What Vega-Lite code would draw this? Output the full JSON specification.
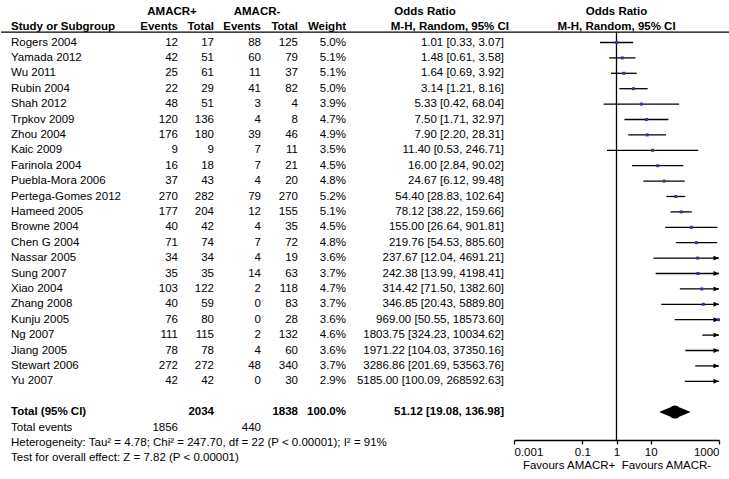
{
  "$schema": "https://vega.github.io/schema/vega-lite/v6.json",
  "padding": {"left": 0, "top": 4, "right": 0, "bottom": 0},
  "bounds": "flush",
  "spacing": 0,
  "resolve": {"scale": {"y": "shared"}},
  "config": {
    "view": {"stroke": null},
    "concat": {"spacing": 0},
    "text": {"font": "Liberation Sans", "fontSize": 11.5, "color": "#000"},
    "axis": {"grid": false, "domainColor": "#000", "tickColor": "#000", "tickSize": 4, "domainWidth": 1.3, "tickWidth": 1.3, "labelFont": "Liberation Sans", "labelFontSize": 11.5, "labelColor": "#000", "labelPadding": 2, "labelFlush": true, "labelOverlap": false, "titleFont": "Liberation Sans", "titleFontSize": 11.5, "titleFontWeight": "normal", "titleColor": "#000", "titlePadding": 2}
  },
  "datasets": {
    "rows": [
      {"row": "Rogers 2004", "e1": 12, "t1": 17, "e2": 88, "t2": 125, "w": 0.050, "ci": "1.01 [0.33, 3.07]", "or": 1.01, "lo": 0.33, "hi": 3.07},
      {"row": "Yamada 2012", "e1": 42, "t1": 51, "e2": 60, "t2": 79, "w": 0.051, "ci": "1.48 [0.61, 3.58]", "or": 1.48, "lo": 0.61, "hi": 3.58},
      {"row": "Wu 2011", "e1": 25, "t1": 61, "e2": 11, "t2": 37, "w": 0.051, "ci": "1.64 [0.69, 3.92]", "or": 1.64, "lo": 0.69, "hi": 3.92},
      {"row": "Rubin 2004", "e1": 22, "t1": 29, "e2": 41, "t2": 82, "w": 0.050, "ci": "3.14 [1.21, 8.16]", "or": 3.14, "lo": 1.21, "hi": 8.16},
      {"row": "Shah 2012", "e1": 48, "t1": 51, "e2": 3, "t2": 4, "w": 0.039, "ci": "5.33 [0.42, 68.04]", "or": 5.33, "lo": 0.42, "hi": 68.04},
      {"row": "Trpkov 2009", "e1": 120, "t1": 136, "e2": 4, "t2": 8, "w": 0.047, "ci": "7.50 [1.71, 32.97]", "or": 7.50, "lo": 1.71, "hi": 32.97},
      {"row": "Zhou 2004", "e1": 176, "t1": 180, "e2": 39, "t2": 46, "w": 0.049, "ci": "7.90 [2.20, 28.31]", "or": 7.90, "lo": 2.20, "hi": 28.31},
      {"row": "Kaic 2009", "e1": 9, "t1": 9, "e2": 7, "t2": 11, "w": 0.035, "ci": "11.40 [0.53, 246.71]", "or": 11.40, "lo": 0.53, "hi": 246.71},
      {"row": "Farinola 2004", "e1": 16, "t1": 18, "e2": 7, "t2": 21, "w": 0.045, "ci": "16.00 [2.84, 90.02]", "or": 16.00, "lo": 2.84, "hi": 90.02},
      {"row": "Puebla-Mora 2006", "e1": 37, "t1": 43, "e2": 4, "t2": 20, "w": 0.048, "ci": "24.67 [6.12, 99.48]", "or": 24.67, "lo": 6.12, "hi": 99.48},
      {"row": "Pertega-Gomes 2012", "e1": 270, "t1": 282, "e2": 79, "t2": 270, "w": 0.052, "ci": "54.40 [28.83, 102.64]", "or": 54.40, "lo": 28.83, "hi": 102.64},
      {"row": "Hameed 2005", "e1": 177, "t1": 204, "e2": 12, "t2": 155, "w": 0.051, "ci": "78.12 [38.22, 159.66]", "or": 78.12, "lo": 38.22, "hi": 159.66},
      {"row": "Browne 2004", "e1": 40, "t1": 42, "e2": 4, "t2": 35, "w": 0.045, "ci": "155.00 [26.64, 901.81]", "or": 155.00, "lo": 26.64, "hi": 901.81},
      {"row": "Chen G 2004", "e1": 71, "t1": 74, "e2": 7, "t2": 72, "w": 0.048, "ci": "219.76 [54.53, 885.60]", "or": 219.76, "lo": 54.53, "hi": 885.60},
      {"row": "Nassar 2005", "e1": 34, "t1": 34, "e2": 4, "t2": 19, "w": 0.036, "ci": "237.67 [12.04, 4691.21]", "or": 237.67, "lo": 12.04, "hi": 4691.21},
      {"row": "Sung 2007", "e1": 35, "t1": 35, "e2": 14, "t2": 63, "w": 0.037, "ci": "242.38 [13.99, 4198.41]", "or": 242.38, "lo": 13.99, "hi": 4198.41},
      {"row": "Xiao 2004", "e1": 103, "t1": 122, "e2": 2, "t2": 118, "w": 0.047, "ci": "314.42 [71.50, 1382.60]", "or": 314.42, "lo": 71.50, "hi": 1382.60},
      {"row": "Zhang 2008", "e1": 40, "t1": 59, "e2": 0, "t2": 83, "w": 0.037, "ci": "346.85 [20.43, 5889.80]", "or": 346.85, "lo": 20.43, "hi": 5889.80},
      {"row": "Kunju 2005", "e1": 76, "t1": 80, "e2": 0, "t2": 28, "w": 0.036, "ci": "969.00 [50.55, 18573.60]", "or": 969.00, "lo": 50.55, "hi": 18573.60},
      {"row": "Ng 2007", "e1": 111, "t1": 115, "e2": 2, "t2": 132, "w": 0.046, "ci": "1803.75 [324.23, 10034.62]", "or": 1803.75, "lo": 324.23, "hi": 10034.62},
      {"row": "Jiang 2005", "e1": 78, "t1": 78, "e2": 4, "t2": 60, "w": 0.036, "ci": "1971.22 [104.03, 37350.16]", "or": 1971.22, "lo": 104.03, "hi": 37350.16},
      {"row": "Stewart 2006", "e1": 272, "t1": 272, "e2": 48, "t2": 340, "w": 0.037, "ci": "3286.86 [201.69, 53563.76]", "or": 3286.86, "lo": 201.69, "hi": 53563.76},
      {"row": "Yu 2007", "e1": 42, "t1": 42, "e2": 0, "t2": 30, "w": 0.029, "ci": "5185.00 [100.09, 268592.63]", "or": 5185.00, "lo": 100.09, "hi": 268592.63},
      {"row": "Total (95% CI)", "t1": 2034, "t2": 1838, "w": 1.0, "ci": "51.12 [19.08, 136.98]", "or": 51.12, "lo": 19.08, "hi": 136.98},
      {"row": "Total events", "e1": 1856, "e2": 440}
    ],
    "labels": [
      {"row": "h2", "col": "study", "label": "Study or Subgroup"},
      {"row": "het", "col": "study", "label": "Heterogeneity: Tau² = 4.78; Chi² = 247.70, df = 22 (P < 0.00001); I² = 91%"},
      {"row": "test", "col": "study", "label": "Test for overall effect: Z = 7.82 (P < 0.00001)"},
      {"row": "h1", "col": "e1", "label": "AMACR+"},
      {"row": "h2", "col": "e1", "label": "Events"},
      {"row": "h2", "col": "t1", "label": "Total"},
      {"row": "h1", "col": "e2", "label": "AMACR-"},
      {"row": "h2", "col": "e2", "label": "Events"},
      {"row": "h2", "col": "t2", "label": "Total"},
      {"row": "h2", "col": "w", "label": "Weight"},
      {"row": "h1", "col": "ci", "label": "Odds Ratio"},
      {"row": "h2", "col": "ci", "label": "M-H, Random, 95% CI"},
      {"row": "h1", "col": "plot", "label": "Odds Ratio"},
      {"row": "h2", "col": "plot", "label": "M-H, Random, 95% CI"}
    ]
  },
  "hconcat": [
    {
      "width": 140, "height": 462,
      "encoding": {"y": {"field": "row", "type": "nominal", "axis": null, "scale": {"type": "point", "padding": 0.5, "domain": ["h1","h2","Rogers 2004","Yamada 2012","Wu 2011","Rubin 2004","Shah 2012","Trpkov 2009","Zhou 2004","Kaic 2009","Farinola 2004","Puebla-Mora 2006","Pertega-Gomes 2012","Hameed 2005","Browne 2004","Chen G 2004","Nassar 2005","Sung 2007","Xiao 2004","Zhang 2008","Kunju 2005","Ng 2007","Jiang 2005","Stewart 2006","Yu 2007","sp","Total (95% CI)","Total events","het","test"]}}},
      "layer": [
        {"data": {"name": "rows"}, "transform": [{"filter": "datum.row != 'Total (95% CI)'"}], "mark": {"type": "text", "align": "left", "x": 0, "dx": 10}, "encoding": {"text": {"field": "row", "type": "nominal"}}},
        {"data": {"name": "rows"}, "transform": [{"filter": "datum.row == 'Total (95% CI)'"}], "mark": {"type": "text", "align": "left", "x": 0, "dx": 10, "fontWeight": "bold"}, "encoding": {"text": {"field": "row", "type": "nominal"}}},
        {"data": {"name": "labels"}, "transform": [{"filter": "datum.col == 'study' && datum.row == 'h2'"}], "mark": {"type": "text", "align": "left", "x": 0, "dx": 10, "fontWeight": "bold"}, "encoding": {"text": {"field": "label", "type": "nominal"}}},
        {"data": {"name": "labels"}, "transform": [{"filter": "datum.col == 'study' && datum.row != 'h2'"}], "mark": {"type": "text", "align": "left", "x": 0, "dx": 10}, "encoding": {"text": {"field": "label", "type": "nominal"}}},
        {"data": {"name": "labels"}, "transform": [{"filter": "datum.col == 'study' && datum.row == 'h2'"}], "mark": {"type": "rule", "yOffset": 5, "strokeWidth": 1.3, "color": "#000"}, "encoding": {}}
      ]
    },
    {
      "width": 37, "height": 462,
      "encoding": {"y": {"field": "row", "type": "nominal", "axis": null, "scale": {"type": "point", "padding": 0.5, "domain": ["h1","h2","Rogers 2004","Yamada 2012","Wu 2011","Rubin 2004","Shah 2012","Trpkov 2009","Zhou 2004","Kaic 2009","Farinola 2004","Puebla-Mora 2006","Pertega-Gomes 2012","Hameed 2005","Browne 2004","Chen G 2004","Nassar 2005","Sung 2007","Xiao 2004","Zhang 2008","Kunju 2005","Ng 2007","Jiang 2005","Stewart 2006","Yu 2007","sp","Total (95% CI)","Total events","het","test"]}}},
      "layer": [
        {"data": {"name": "rows"}, "transform": [{"filter": "isValid(datum.e1) && datum.row != 'Total (95% CI)'"}], "mark": {"type": "text", "align": "right", "x": "width"}, "encoding": {"text": {"field": "e1", "type": "quantitative"}}},
        {"data": {"name": "rows"}, "transform": [{"filter": "isValid(datum.e1) && datum.row == 'Total (95% CI)'"}], "mark": {"type": "text", "align": "right", "x": "width", "fontWeight": "bold"}, "encoding": {"text": {"field": "e1", "type": "quantitative"}}},
        {"data": {"name": "labels"}, "transform": [{"filter": "datum.col == 'e1' && datum.row == 'h2'"}], "mark": {"type": "text", "align": "right", "x": "width", "fontWeight": "bold"}, "encoding": {"text": {"field": "label", "type": "nominal"}}},
        {"data": {"name": "labels"}, "transform": [{"filter": "datum.col == 'e1' && datum.row == 'h1'"}], "mark": {"type": "text", "align": "center", "x": "width", "dx": -6, "fontWeight": "bold"}, "encoding": {"text": {"field": "label", "type": "nominal"}}},
        {"data": {"name": "labels"}, "transform": [{"filter": "datum.col == 'e1' && datum.row == 'h2'"}], "mark": {"type": "rule", "yOffset": 5, "strokeWidth": 1.3, "color": "#000"}, "encoding": {}}
      ]
    },
    {
      "width": 36, "height": 462,
      "encoding": {"y": {"field": "row", "type": "nominal", "axis": null, "scale": {"type": "point", "padding": 0.5, "domain": ["h1","h2","Rogers 2004","Yamada 2012","Wu 2011","Rubin 2004","Shah 2012","Trpkov 2009","Zhou 2004","Kaic 2009","Farinola 2004","Puebla-Mora 2006","Pertega-Gomes 2012","Hameed 2005","Browne 2004","Chen G 2004","Nassar 2005","Sung 2007","Xiao 2004","Zhang 2008","Kunju 2005","Ng 2007","Jiang 2005","Stewart 2006","Yu 2007","sp","Total (95% CI)","Total events","het","test"]}}},
      "layer": [
        {"data": {"name": "rows"}, "transform": [{"filter": "isValid(datum.t1) && datum.row != 'Total (95% CI)'"}], "mark": {"type": "text", "align": "right", "x": "width"}, "encoding": {"text": {"field": "t1", "type": "quantitative"}}},
        {"data": {"name": "rows"}, "transform": [{"filter": "isValid(datum.t1) && datum.row == 'Total (95% CI)'"}], "mark": {"type": "text", "align": "right", "x": "width", "fontWeight": "bold"}, "encoding": {"text": {"field": "t1", "type": "quantitative"}}},
        {"data": {"name": "labels"}, "transform": [{"filter": "datum.col == 't1' && datum.row == 'h2'"}], "mark": {"type": "text", "align": "right", "x": "width", "fontWeight": "bold"}, "encoding": {"text": {"field": "label", "type": "nominal"}}},
        {"data": {"name": "labels"}, "transform": [{"filter": "datum.col == 't1' && datum.row == 'h2'"}], "mark": {"type": "rule", "yOffset": 5, "strokeWidth": 1.3, "color": "#000"}, "encoding": {}}
      ]
    },
    {
      "width": 47, "height": 462,
      "encoding": {"y": {"field": "row", "type": "nominal", "axis": null, "scale": {"type": "point", "padding": 0.5, "domain": ["h1","h2","Rogers 2004","Yamada 2012","Wu 2011","Rubin 2004","Shah 2012","Trpkov 2009","Zhou 2004","Kaic 2009","Farinola 2004","Puebla-Mora 2006","Pertega-Gomes 2012","Hameed 2005","Browne 2004","Chen G 2004","Nassar 2005","Sung 2007","Xiao 2004","Zhang 2008","Kunju 2005","Ng 2007","Jiang 2005","Stewart 2006","Yu 2007","sp","Total (95% CI)","Total events","het","test"]}}},
      "layer": [
        {"data": {"name": "rows"}, "transform": [{"filter": "isValid(datum.e2) && datum.row != 'Total (95% CI)'"}], "mark": {"type": "text", "align": "right", "x": "width"}, "encoding": {"text": {"field": "e2", "type": "quantitative"}}},
        {"data": {"name": "labels"}, "transform": [{"filter": "datum.col == 'e2' && datum.row == 'h2'"}], "mark": {"type": "text", "align": "right", "x": "width", "fontWeight": "bold"}, "encoding": {"text": {"field": "label", "type": "nominal"}}},
        {"data": {"name": "labels"}, "transform": [{"filter": "datum.col == 'e2' && datum.row == 'h1'"}], "mark": {"type": "text", "align": "center", "x": "width", "dx": -4, "fontWeight": "bold"}, "encoding": {"text": {"field": "label", "type": "nominal"}}},
        {"data": {"name": "labels"}, "transform": [{"filter": "datum.col == 'e2' && datum.row == 'h2'"}], "mark": {"type": "rule", "yOffset": 5, "strokeWidth": 1.3, "color": "#000"}, "encoding": {}}
      ]
    },
    {
      "width": 37, "height": 462,
      "encoding": {"y": {"field": "row", "type": "nominal", "axis": null, "scale": {"type": "point", "padding": 0.5, "domain": ["h1","h2","Rogers 2004","Yamada 2012","Wu 2011","Rubin 2004","Shah 2012","Trpkov 2009","Zhou 2004","Kaic 2009","Farinola 2004","Puebla-Mora 2006","Pertega-Gomes 2012","Hameed 2005","Browne 2004","Chen G 2004","Nassar 2005","Sung 2007","Xiao 2004","Zhang 2008","Kunju 2005","Ng 2007","Jiang 2005","Stewart 2006","Yu 2007","sp","Total (95% CI)","Total events","het","test"]}}},
      "layer": [
        {"data": {"name": "rows"}, "transform": [{"filter": "isValid(datum.t2) && datum.row != 'Total (95% CI)'"}], "mark": {"type": "text", "align": "right", "x": "width"}, "encoding": {"text": {"field": "t2", "type": "quantitative"}}},
        {"data": {"name": "rows"}, "transform": [{"filter": "isValid(datum.t2) && datum.row == 'Total (95% CI)'"}], "mark": {"type": "text", "align": "right", "x": "width", "fontWeight": "bold"}, "encoding": {"text": {"field": "t2", "type": "quantitative"}}},
        {"data": {"name": "labels"}, "transform": [{"filter": "datum.col == 't2' && datum.row == 'h2'"}], "mark": {"type": "text", "align": "right", "x": "width", "fontWeight": "bold"}, "encoding": {"text": {"field": "label", "type": "nominal"}}},
        {"data": {"name": "labels"}, "transform": [{"filter": "datum.col == 't2' && datum.row == 'h2'"}], "mark": {"type": "rule", "yOffset": 5, "strokeWidth": 1.3, "color": "#000"}, "encoding": {}}
      ]
    },
    {
      "width": 48, "height": 462,
      "encoding": {"y": {"field": "row", "type": "nominal", "axis": null, "scale": {"type": "point", "padding": 0.5, "domain": ["h1","h2","Rogers 2004","Yamada 2012","Wu 2011","Rubin 2004","Shah 2012","Trpkov 2009","Zhou 2004","Kaic 2009","Farinola 2004","Puebla-Mora 2006","Pertega-Gomes 2012","Hameed 2005","Browne 2004","Chen G 2004","Nassar 2005","Sung 2007","Xiao 2004","Zhang 2008","Kunju 2005","Ng 2007","Jiang 2005","Stewart 2006","Yu 2007","sp","Total (95% CI)","Total events","het","test"]}}},
      "layer": [
        {"data": {"name": "rows"}, "transform": [{"filter": "isValid(datum.w) && datum.row != 'Total (95% CI)'"}], "mark": {"type": "text", "align": "right", "x": "width"}, "encoding": {"text": {"field": "w", "type": "quantitative", "format": ".1%"}}},
        {"data": {"name": "rows"}, "transform": [{"filter": "isValid(datum.w) && datum.row == 'Total (95% CI)'"}], "mark": {"type": "text", "align": "right", "x": "width", "fontWeight": "bold"}, "encoding": {"text": {"field": "w", "type": "quantitative", "format": ".1%"}}},
        {"data": {"name": "labels"}, "transform": [{"filter": "datum.col == 'w' && datum.row == 'h2'"}], "mark": {"type": "text", "align": "right", "x": "width", "fontWeight": "bold"}, "encoding": {"text": {"field": "label", "type": "nominal"}}},
        {"data": {"name": "labels"}, "transform": [{"filter": "datum.col == 'w' && datum.row == 'h2'"}], "mark": {"type": "rule", "yOffset": 5, "strokeWidth": 1.3, "color": "#000"}, "encoding": {}}
      ]
    },
    {
      "width": 158, "height": 462,
      "encoding": {"y": {"field": "row", "type": "nominal", "axis": null, "scale": {"type": "point", "padding": 0.5, "domain": ["h1","h2","Rogers 2004","Yamada 2012","Wu 2011","Rubin 2004","Shah 2012","Trpkov 2009","Zhou 2004","Kaic 2009","Farinola 2004","Puebla-Mora 2006","Pertega-Gomes 2012","Hameed 2005","Browne 2004","Chen G 2004","Nassar 2005","Sung 2007","Xiao 2004","Zhang 2008","Kunju 2005","Ng 2007","Jiang 2005","Stewart 2006","Yu 2007","sp","Total (95% CI)","Total events","het","test"]}}},
      "layer": [
        {"data": {"name": "rows"}, "transform": [{"filter": "isValid(datum.ci) && datum.row != 'Total (95% CI)'"}], "mark": {"type": "text", "align": "right", "x": "width"}, "encoding": {"text": {"field": "ci", "type": "nominal"}}},
        {"data": {"name": "rows"}, "transform": [{"filter": "isValid(datum.ci) && datum.row == 'Total (95% CI)'"}], "mark": {"type": "text", "align": "right", "x": "width", "fontWeight": "bold"}, "encoding": {"text": {"field": "ci", "type": "nominal"}}},
        {"data": {"name": "labels"}, "transform": [{"filter": "datum.col == 'ci' && datum.row == 'h1'"}], "mark": {"type": "text", "align": "center", "fontWeight": "bold"}, "encoding": {"text": {"field": "label", "type": "nominal"}}},
        {"data": {"name": "labels"}, "transform": [{"filter": "datum.col == 'ci' && datum.row == 'h2'"}], "mark": {"type": "text", "align": "right", "x": "width", "dx": 5, "fontWeight": "bold"}, "encoding": {"text": {"field": "label", "type": "nominal"}}},
        {"data": {"name": "labels"}, "transform": [{"filter": "datum.col == 'ci' && datum.row == 'h2'"}], "mark": {"type": "rule", "yOffset": 5, "strokeWidth": 1.3, "color": "#000"}, "encoding": {}}
      ]
    },
    {
      "width": 226, "height": 462,
      "encoding": {"y": {"field": "row", "type": "nominal", "axis": null, "scale": {"type": "point", "padding": 0.5, "domain": ["h1","h2","Rogers 2004","Yamada 2012","Wu 2011","Rubin 2004","Shah 2012","Trpkov 2009","Zhou 2004","Kaic 2009","Farinola 2004","Puebla-Mora 2006","Pertega-Gomes 2012","Hameed 2005","Browne 2004","Chen G 2004","Nassar 2005","Sung 2007","Xiao 2004","Zhang 2008","Kunju 2005","Ng 2007","Jiang 2005","Stewart 2006","Yu 2007","sp","Total (95% CI)","Total events","het","test"]}}},
      "layer": [
        {"data": {"name": "labels"}, "transform": [{"filter": "datum.col == 'plot' && datum.row == 'h2'"}], "mark": {"type": "rule", "yOffset": 5, "strokeWidth": 1.3, "color": "#000"}, "encoding": {}},
        {"data": {"name": "labels"}, "transform": [{"filter": "datum.col == 'plot' && datum.row == 'h2'"}], "mark": {"type": "rule", "yOffset": 5, "y2Offset": -3, "strokeWidth": 1.3, "color": "#000"},
          "encoding": {
            "x": {"datum": 1, "type": "quantitative", "scale": {"type": "log", "domain": [0.001, 1000], "range": [10, 215], "clamp": true, "nice": false}, "axis": {"values": [0.001, 0.1, 1, 10, 1000], "format": "~g", "title": "Favours AMACR+ \u00a0Favours AMACR-", "offset": -26}},
            "y2": {"datum": "het"}
          }},
        {"data": {"name": "rows"}, "transform": [{"filter": "isValid(datum.lo) && datum.row != 'Total (95% CI)'"}], "mark": {"type": "rule", "strokeWidth": 1.3, "color": "#000"},
          "encoding": {
            "x": {"field": "lo", "type": "quantitative", "scale": {"type": "log", "domain": [0.001, 1000], "range": [10, 215], "clamp": true, "nice": false}, "axis": {"values": [0.001, 0.1, 1, 10, 1000], "format": "~g", "title": "Favours AMACR+ \u00a0Favours AMACR-", "offset": -26}},
            "x2": {"field": "hi"}
          }},
        {"data": {"name": "rows"}, "transform": [{"filter": "datum.hi > 1000"}], "mark": {"type": "point", "shape": "M0,0L-1,-0.45L-1,0.45Z", "filled": true, "opacity": 1, "size": 121, "color": "#000"},
          "encoding": {
            "x": {"field": "hi", "type": "quantitative", "scale": {"type": "log", "domain": [0.001, 1000], "range": [10, 215], "clamp": true, "nice": false}, "axis": {"values": [0.001, 0.1, 1, 10, 1000], "format": "~g", "title": "Favours AMACR+ \u00a0Favours AMACR-", "offset": -26}}
          }},
        {"data": {"name": "rows"}, "transform": [{"filter": "isValid(datum.or) && datum.or <= 1000 && datum.row != 'Total (95% CI)'"}], "mark": {"type": "point", "shape": "square", "filled": true, "opacity": 1, "size": 9, "color": "#3434a6"},
          "encoding": {
            "x": {"field": "or", "type": "quantitative", "scale": {"type": "log", "domain": [0.001, 1000], "range": [10, 215], "clamp": true, "nice": false}, "axis": {"values": [0.001, 0.1, 1, 10, 1000], "format": "~g", "title": "Favours AMACR+ \u00a0Favours AMACR-", "offset": -26}}
          }},
        {"data": {"name": "rows"}, "transform": [{"filter": "datum.row == 'Total (95% CI)'"}, {"fold": ["lo", "or", "hi"], "as": ["key", "value"]}], "mark": {"type": "trail", "color": "#000"},
          "encoding": {
            "x": {"field": "value", "type": "quantitative", "scale": {"type": "log", "domain": [0.001, 1000], "range": [10, 215], "clamp": true, "nice": false}, "axis": {"values": [0.001, 0.1, 1, 10, 1000], "format": "~g", "title": "Favours AMACR+ \u00a0Favours AMACR-", "offset": -26}},
            "size": {"field": "key", "type": "ordinal", "scale": {"type": "ordinal", "domain": ["lo", "or", "hi"], "range": [0, 13, 0]}, "legend": null},
            "order": {"field": "value", "type": "quantitative"}
          }},
        {"data": {"name": "labels"}, "transform": [{"filter": "datum.col == 'plot'"}], "mark": {"type": "text", "align": "center", "fontWeight": "bold"},
          "encoding": {
            "x": {"datum": 1, "type": "quantitative", "scale": {"type": "log", "domain": [0.001, 1000], "range": [10, 215], "clamp": true, "nice": false}, "axis": {"values": [0.001, 0.1, 1, 10, 1000], "format": "~g", "title": "Favours AMACR+ \u00a0Favours AMACR-", "offset": -26}},
            "text": {"field": "label", "type": "nominal"}
          }}
      ]
    }
  ]
}
